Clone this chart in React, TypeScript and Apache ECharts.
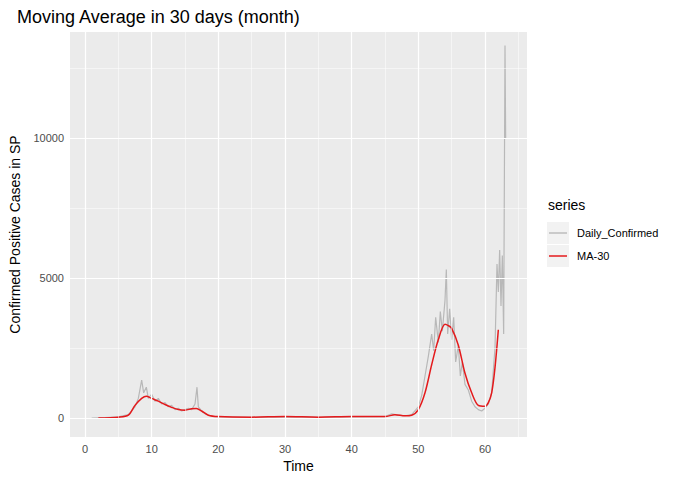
import React, { useEffect, useRef } from 'react';
import * as echarts from 'echarts';

const dailyConfirmed: [number, number][] = [
  [1, 0], [3, 10], [5, 40], [6.5, 120], [7.5, 400], [8, 700], [8.5, 1350], [8.8, 900], [9.2, 1100],
  [9.5, 700], [10, 850], [10.5, 600], [11, 700], [11.5, 500], [12, 550], [12.5, 400], [13, 450],
  [13.5, 300], [14, 350], [14.5, 250], [15, 300], [15.5, 350], [16, 300], [16.5, 500], [16.8, 1100],
  [17, 400], [17.5, 250], [18, 150], [19, 60], [20, 40], [25, 20], [30, 40], [35, 20], [40, 40],
  [45, 50], [46, 150], [47, 100], [48, 80], [49, 120], [50, 400], [50.5, 800], [51, 1500],
  [51.5, 2200], [52, 3000], [52.3, 2400], [52.6, 3600], [53, 2700], [53.3, 3800], [53.6, 3100],
  [54, 4200], [54.2, 5300], [54.4, 3000], [54.7, 3900], [55, 2800], [55.3, 3600], [55.6, 2000],
  [56, 2600], [56.3, 1500], [56.6, 2000], [57, 1200], [57.5, 1000], [58, 600], [58.5, 400],
  [59, 300], [59.5, 250], [60, 350], [60.5, 500], [61, 900], [61.5, 2500], [61.8, 5500],
  [62, 4500], [62.2, 6000], [62.4, 4000], [62.6, 5800], [62.8, 3000], [63, 13300], [63.1, 10000],
];

const ma30: [number, number][] = [
  [2, 0], [5, 30], [6.5, 100], [7.5, 450], [8.5, 700], [9.2, 780], [10, 700], [11, 600], [12, 480],
  [13, 380], [14, 300], [15, 280], [16, 330], [16.7, 340], [17.5, 250], [18.5, 100], [20, 50],
  [25, 30], [30, 50], [35, 30], [40, 50], [45, 50], [46.5, 120], [48, 80], [49, 100], [50, 300],
  [51, 900], [52, 1900], [53, 2800], [54, 3350], [54.5, 3300], [55, 3200], [56, 2600], [57, 1600],
  [58, 900], [59, 450], [60, 420], [60.5, 550], [61, 900], [61.5, 1800], [62, 3150],
];

const xTicks = [0, 10, 20, 30, 40, 50, 60];
const xMinor = [5, 15, 25, 35, 45, 55, 65];
const yTicks = [0, 5000, 10000];
const yMinor = [2500, 7500, 12500];

const App: React.FC = () => {
  const ref = useRef<HTMLDivElement>(null);

  useEffect(() => {
    if (!ref.current) return;
    const chart = echarts.init(ref.current, undefined, { renderer: 'svg' });
    const gridLine = (axis: 'xAxis' | 'yAxis', v: number, w: number) => ({
      [axis]: v,
      lineStyle: { color: '#fff', width: w, type: 'solid' },
    });
    chart.setOption({
      animation: false,
      title: {
        text: 'Moving Average in 30 days (month)',
        left: 12, top: 3,
        textStyle: { fontFamily: 'Liberation Sans', fontWeight: 'normal', fontSize: 18, color: '#000' },
      },
      grid: { left: 70, right: 147, top: 32, bottom: 48, show: true, backgroundColor: '#EBEBEB', borderWidth: 0 },
      xAxis: {
        type: 'value', min: -2.25, max: 66.3,
        name: 'Time', nameLocation: 'middle', nameGap: 20,
        nameTextStyle: { fontFamily: 'Liberation Sans', fontSize: 14, color: '#000' },
        axisLine: { show: false },
        axisTick: { show: true, customValues: xTicks, length: 4, lineStyle: { color: '#333' } },
        axisLabel: { customValues: xTicks, color: '#4D4D4D', fontSize: 11, fontFamily: 'Liberation Sans', margin: 6 },
        splitLine: { show: false },
      },
      yAxis: {
        type: 'value', min: -679, max: 13786,
        name: 'Confirmed Positive Cases in SP', nameLocation: 'middle', nameGap: 48,
        nameTextStyle: { fontFamily: 'Liberation Sans', fontSize: 14, color: '#000' },
        axisLine: { show: false },
        axisTick: { show: true, customValues: yTicks, length: 4, lineStyle: { color: '#333' } },
        axisLabel: {
          customValues: yTicks, color: '#4D4D4D', fontSize: 11, fontFamily: 'Liberation Sans', margin: 6,
          formatter: (v: number) => String(v),
        },
        splitLine: { show: false },
      },
      graphic: [
        { type: 'text', left: 548, top: 198, style: { text: 'series', fontSize: 14, fontFamily: 'Liberation Sans', fill: '#000' } },
        { type: 'rect', shape: { x: 547, y: 222, width: 22, height: 22 }, style: { fill: '#F2F2F2' } },
        { type: 'line', shape: { x1: 549, y1: 233, x2: 567, y2: 233 }, style: { stroke: '#BDBDBD', lineWidth: 1.5 } },
        { type: 'text', left: 577, top: 227, style: { text: 'Daily_Confirmed', fontSize: 11, fontFamily: 'Liberation Sans', fill: '#000' } },
        { type: 'rect', shape: { x: 547, y: 245, width: 22, height: 22 }, style: { fill: '#F2F2F2' } },
        { type: 'line', shape: { x1: 549, y1: 256, x2: 567, y2: 256 }, style: { stroke: '#E41A1C', lineWidth: 1.5 } },
        { type: 'text', left: 577, top: 250, style: { text: 'MA-30', fontSize: 11, fontFamily: 'Liberation Sans', fill: '#000' } },
      ],
      series: [
        {
          type: 'line', data: [], silent: true, z: 0,
          markLine: {
            symbol: 'none', silent: true, label: { show: false },
            data: [
              ...xMinor.map(v => gridLine('xAxis', v, 0.5)),
              ...yMinor.map(v => gridLine('yAxis', v, 0.5)),
              ...xTicks.map(v => gridLine('xAxis', v, 1.2)),
              ...yTicks.map(v => gridLine('yAxis', v, 1.2)),
            ],
          },
        },
        {
          name: 'Daily_Confirmed', type: 'line', data: dailyConfirmed, showSymbol: false, z: 2,
          lineStyle: { color: '#B8B8B8', width: 1.2 },
        },
        {
          name: 'MA-30', type: 'line', data: ma30, showSymbol: false, smooth: 0.3, z: 3,
          lineStyle: { color: '#E41A1C', width: 1.5 },
        },
      ],
    });
    return () => chart.dispose();
  }, []);

  return <div ref={ref} style={{ width: 674, height: 485, margin: -8 }} />;
};

export default App;
